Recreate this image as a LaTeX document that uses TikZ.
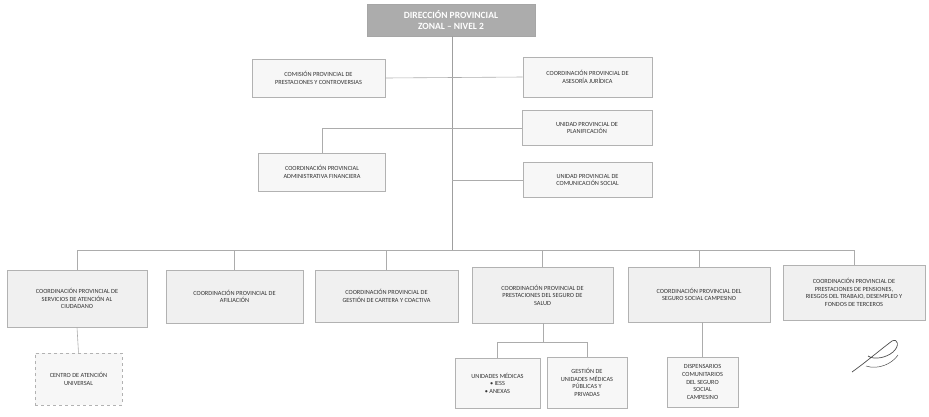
\documentclass[tikz,border=0pt]{standalone}
\usepackage{fontspec}
\setmainfont{Carlito}
\usepackage{xcolor}
\usetikzlibrary{positioning}

\begin{document}
\begin{tikzpicture}[
  x=1pt, y=-1pt,
  unit/.style={draw=gray!60, line width=0.6pt, fill=gray!6, align=center,
               text=black!80, font=\fontsize{6.3}{7.6}\selectfont, inner sep=1.5pt},
  coord/.style={unit, fill=gray!12},
  head/.style={draw=gray!70, fill=gray!65, text=white, align=center,
               font=\fontsize{9.5}{10.5}\selectfont\bfseries,
               minimum width=168pt, minimum height=32pt},
  link/.style={draw=gray!65, line width=0.6pt},
  trunk/.style={draw=gray!75, line width=0.9pt}]
\useasboundingbox (0,0) rectangle (929,416);

% direccion
\node[head] (dir) at (451,20) {DIRECCIÓN PROVINCIAL\\ZONAL – NIVEL 2};

% staff units
\node[unit, minimum width=133pt, minimum height=38pt] (com) at (318.5,78)
  {COMISIÓN PROVINCIAL DE\\PRESTACIONES Y CONTROVERSIAS};
\node[unit, minimum width=129pt, minimum height=40pt] (jur) at (587.5,77)
  {COORDINACIÓN PROVINCIAL DE\\ASESORÍA JURÍDICA};
\node[unit, minimum width=130pt, minimum height=35pt] (pla) at (587,128)
  {UNIDAD PROVINCIAL DE\\PLANIFICACIÓN};
\node[unit, minimum width=127pt, minimum height=38pt] (adm) at (322,172)
  {COORDINACIÓN PROVINCIAL\\ADMINISTRATIVA FINANCIERA};
\node[unit, minimum width=129pt, minimum height=35pt] (cso) at (587.5,180)
  {UNIDAD PROVINCIAL DE\\COMUNICACIÓN SOCIAL};

% line coordinations
\node[coord, minimum width=140pt, minimum height=57pt] (sac) at (77,298.5)
  {COORDINACIÓN PROVINCIAL DE\\SERVICIOS DE ATENCIÓN AL\\CIUDADANO};
\node[coord, minimum width=137pt, minimum height=53pt] (afi) at (234.5,296.5)
  {COORDINACIÓN PROVINCIAL DE\\AFILIACIÓN};
\node[coord, minimum width=143pt, minimum height=52pt] (car) at (386.5,296)
  {COORDINACIÓN PROVINCIAL DE\\GESTIÓN DE CARTERA Y COACTIVA};
\node[coord, minimum width=141pt, minimum height=56pt] (sal) at (542.5,295)
  {COORDINACIÓN PROVINCIAL DE\\PRESTACIONES DEL SEGURO DE\\SALUD};
\node[coord, minimum width=142pt, minimum height=55pt] (ssc) at (699,294.5)
  {COORDINACIÓN PROVINCIAL DEL\\SEGURO SOCIAL CAMPESINO};
\node[coord, minimum width=142pt, minimum height=55pt] (pen) at (854,292.5)
  {COORDINACIÓN PROVINCIAL DE\\PRESTACIONES DE PENSIONES,\\RIESGOS DEL TRABAJO, DESEMPLEO Y\\FONDOS DE TERCEROS};

% operative units
\node[unit, dashed, minimum width=87pt, minimum height=52pt] (cau) at (78.5,379)
  {CENTRO DE ATENCIÓN\\UNIVERSAL};
\node[unit, minimum width=85pt, minimum height=50pt] (umd) at (497.5,383)
  {UNIDADES MÉDICAS\\• IESS\\• ANEXAS};
\node[unit, minimum width=80pt, minimum height=51pt] (gum) at (587,382.5)
  {GESTIÓN DE\\UNIDADES MÉDICAS\\PÚBLICAS Y\\PRIVADAS};
\node[unit, minimum width=71pt, minimum height=50pt] (dis) at (702.5,382)
  {DISPENSARIOS\\COMUNITARIOS\\DEL SEGURO\\SOCIAL\\CAMPESINO};

\coordinate (bus) at (452,250);
\coordinate (fork) at (543,342);

\draw[trunk] (dir.south -| bus) -- (bus);
\draw[link] (com.east) -- (jur.west);
\draw[link] (pla.west -| bus) -- (pla.west);
\draw[link] (pla.west -| bus) -| (adm.north);
\draw[link] (cso.west -| bus) -- (cso.west);
\draw[link] (sac.north |- bus) -- (pen.north |- bus);
\foreach \n in {sac,afi,car,sal,ssc,pen}
  \draw[link] (\n.north |- bus) -- (\n.north);
\draw[link] (sac.south) -- (cau.north);
\draw[link] (sal.south -| fork) -- (fork);
\draw[link] (umd.north |- fork) -- (gum.north |- fork);
\draw[link] (umd.north |- fork) -- (umd.north);
\draw[link] (gum.north |- fork) -- (gum.north);
\draw[link] (ssc.south -| dis.north) -- (dis.north);

% rubrica
\draw[gray!60!black, line width=0.7pt]
  (852,372) .. controls (866,362) and (880,350) .. (892,341)
  .. controls (898,338) and (900,346) .. (893,352)
  .. controls (886,358) and (874,360) .. (868,356);
\draw[gray!60!black, line width=0.5pt]
  (866,366) .. controls (878,370) and (892,364) .. (898,355);
\end{tikzpicture}
\end{document}
